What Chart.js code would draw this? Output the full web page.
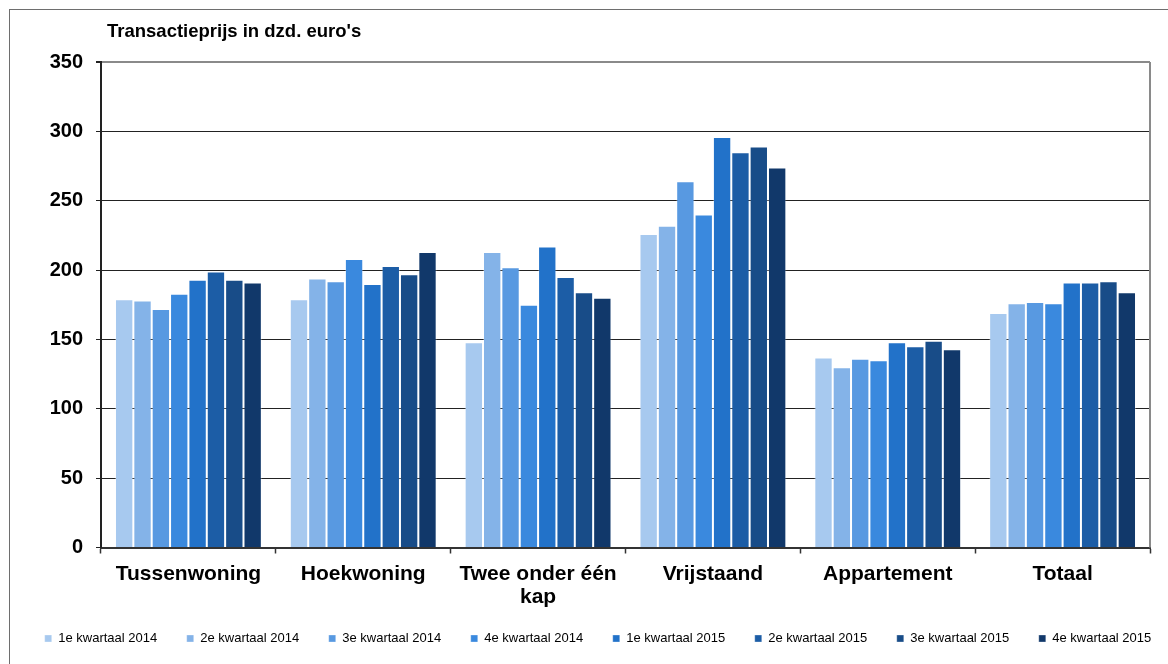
<!DOCTYPE html>
<html lang="nl">
<head>
  <meta charset="UTF-8">
  <title>Transactieprijs</title>
  <script src="https://cdn.jsdelivr.net/npm/chart.js@4.4.1/dist/chart.umd.min.js"></script>
  <style>
    html, body { margin: 0; padding: 0; background: #fff; overflow: hidden; }
    #frame { position: absolute; left: 9px; top: 9px; width: 1200px; height: 700px;
             border-left: 1.5px solid #6e6e6e; border-top: 1.5px solid #6e6e6e; pointer-events: none; }
    #myChart { position: absolute; left: 0; top: 0; }
  </style>
</head>
<body>
  <div id="frame"></div>
  <canvas id="myChart" width="1168" height="664"></canvas>

  <script>
    // data
    const categories = ['Tussenwoning', 'Hoekwoning', ['Twee onder één', 'kap'], 'Vrijstaand', 'Appartement', 'Totaal'];
    const seriesNames = ['1e kwartaal 2014', '2e kwartaal 2014', '3e kwartaal 2014', '4e kwartaal 2014',
                         '1e kwartaal 2015', '2e kwartaal 2015', '3e kwartaal 2015', '4e kwartaal 2015'];
    const q1_2014 = [179, 179, 148, 226, 137, 169];
    const q2_2014 = [178, 194, 213, 232, 130, 176];
    const q3_2014 = [172, 192, 202, 264, 136, 177];
    const q4_2014 = [183, 208, 175, 240, 135, 176];
    const q1_2015 = [193, 190, 217, 296, 148, 191];
    const q2_2015 = [199, 203, 195, 285, 145, 191];
    const q3_2015 = [193, 197, 184, 289, 149, 192];
    const q4_2015 = [191, 213, 180, 274, 143, 184];
    const yTicks = [0, 50, 100, 150, 200, 250, 300, 350];

    const seriesValues = [q1_2014, q2_2014, q3_2014, q4_2014, q1_2015, q2_2015, q3_2015, q4_2015];
    const colors = ['#a7c9ef', '#84b3e8', '#5899e1', '#3a89de', '#2272c9', '#1c5da6', '#184c88', '#11386a'];

    const datasets = seriesValues.map(function (vals, i) {
      return {
        label: seriesNames[i],
        data: vals,
        backgroundColor: colors[i],
        borderColor: 'rgba(255, 255, 255, 0.3)',
        borderWidth: 1,
        categoryPercentage: 0.84,
        barPercentage: 1.0
      };
    });

    /* title, right frame line of the plot area, legend nudge */
    const extras = {
      id: 'extras',
      afterLayout(chart) {
        // legend row sits a little right of centre and a bit higher in the original
        chart.legend.left += 14;
        chart.legend.right += 14;
        chart.legend.top -= 7;
        chart.legend.bottom -= 7;
      },
      afterDraw(chart) {
        const ctx = chart.ctx;
        const a = chart.chartArea;
        ctx.save();
        ctx.strokeStyle = '#8a8a8a';
        ctx.lineWidth = 2;
        ctx.beginPath();
        ctx.moveTo(a.right, a.top);
        ctx.lineTo(a.right, a.bottom);
        ctx.stroke();
        ctx.fillStyle = '#000';
        ctx.font = "bold 18.5px 'Liberation Sans', Arial, sans-serif";
        ctx.textBaseline = 'middle';
        ctx.fillText("Transactieprijs in dzd. euro's", a.left + 6, 32);
        ctx.restore();
      }
    };

    const config = {
      type: 'bar',
      data: { labels: categories, datasets: datasets },
      options: {
        responsive: false,
        animation: false,
        layout: { padding: { left: 0, top: 62, right: 0, bottom: 2 } },
        plugins: {
          legend: {
            position: 'bottom',
            labels: {
              boxWidth: 7,
              boxHeight: 7,
              padding: 29.5,
              color: '#000',
              font: { family: "'Liberation Sans', Arial, sans-serif", size: 13 }
            }
          },
          tooltip: { enabled: false }
        },
        scales: {
          x: {
            afterFit(scale) { scale.height = 62; },
            border: { color: '#333', width: 2 },
            grid: { drawOnChartArea: false, offset: true, tickLength: 6, tickColor: '#333', tickWidth: 1.5 },
            ticks: {
              color: '#000',
              padding: 9,
              maxRotation: 0,
              autoSkip: false,
              font: { family: "'Liberation Sans', Arial, sans-serif", size: 21, weight: 'bold', lineHeight: 1.1 }
            }
          },
          y: {
            min: 0,
            max: 350,
            afterFit(scale) { scale.width = 101; },
            afterBuildTicks(scale) { scale.ticks = yTicks.map(v => ({ value: v })); },
            border: { color: '#222', width: 2 },
            grid: {
              color: ctx => ctx.tick && ctx.tick.value === 350 ? '#8a8a8a' : '#222',
              lineWidth: ctx => ctx.tick && ctx.tick.value === 350 ? 2 : 1,
              tickLength: 5,
              tickColor: '#222'
            },
            ticks: {
              color: '#000',
              padding: 13,
              font: { family: "'Liberation Sans', Arial, sans-serif", size: 20, weight: 'bold' }
            }
          },
          // empty right-hand strip so the plot ends where the original does
          yRight: {
            position: 'right',
            display: true,
            afterFit(scale) { scale.width = 18; },
            border: { display: false },
            grid: { display: false },
            ticks: { display: false }
          }
        }
      },
      plugins: [extras]
    };

    var myChart = new Chart(document.getElementById('myChart'), config);
  </script>
</body>
</html>
